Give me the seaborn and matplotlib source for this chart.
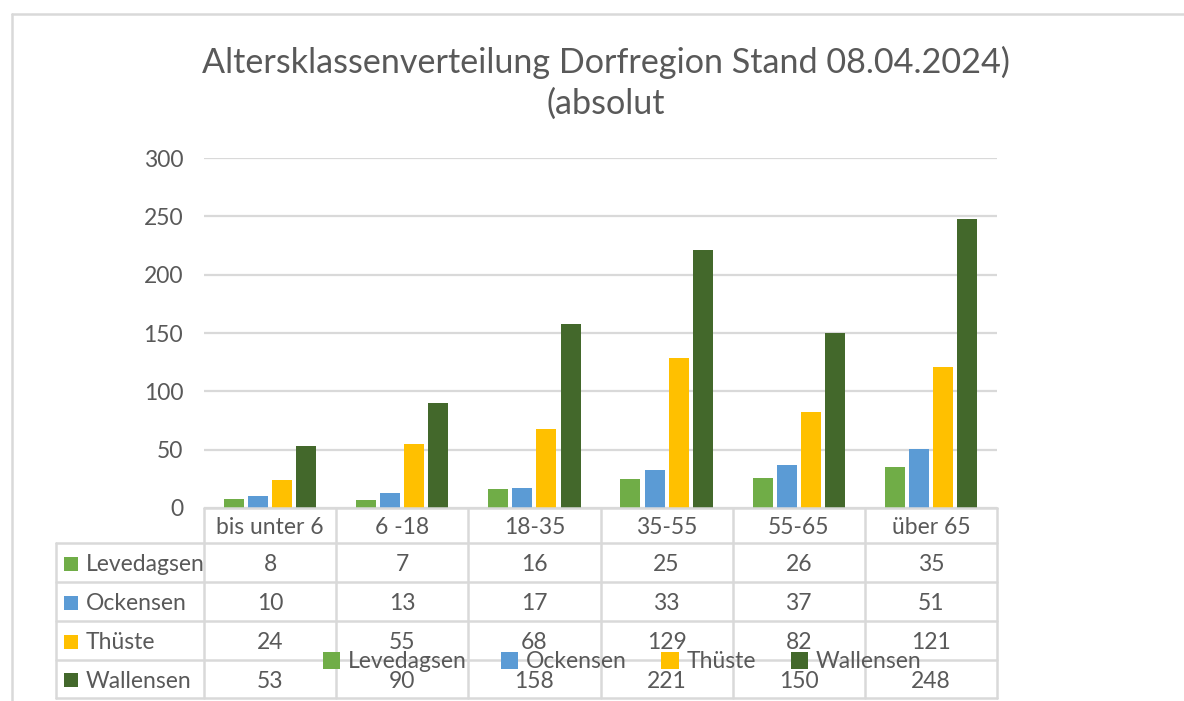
import matplotlib
matplotlib.use("Agg")
import matplotlib.pyplot as plt
import matplotlib.transforms as mtransforms
from matplotlib.lines import Line2D
from matplotlib.patches import Rectangle
import seaborn as sns
import pandas as pd

# Age classes and villages
categories = ["bis unter 6", "6 -18", "18-35", "35-55", "55-65", "über 65"]
villages = ["Levedagsen", "Ockensen", "Thüste", "Wallensen"]
levedagsen = [8, 7, 16, 25, 26, 35]
ockensen = [10, 13, 17, 33, 37, 51]
thueste = [24, 55, 68, 129, 82, 121]
wallensen = [53, 90, 158, 221, 150, 248]
yticks = [0, 50, 100, 150, 200, 250, 300]
title = "Altersklassenverteilung Dorfregion Stand 08.04.2024)\n(absolut"

colors = ["#70AD47", "#5B9BD5", "#FFC000", "#43682B"]
series = [levedagsen, ockensen, thueste, wallensen]

rows = []
for name, vals in zip(villages, series):
    for cat, v in zip(categories, vals):
        rows.append({"Altersklasse": cat, "Ort": name, "Anzahl": v})
df = pd.DataFrame(rows)

sns.set_theme(style="white")
plt.rcParams["font.family"] = ["Lato", "DejaVu Sans"]
TXT = "#595959"
GRID = "#D9D9D9"

W, H = 1184, 701
fig = plt.figure(figsize=(W / 100, H / 100), dpi=100)
fig.patch.set_facecolor("white")

def fx(px):
    return px / W

def fy(py):
    return 1 - py / H

ax_left, ax_right, ax_top, ax_bottom = 204, 997, 158, 508
ax = fig.add_axes([fx(ax_left), fy(ax_bottom), fx(ax_right - ax_left), (ax_bottom - ax_top) / H])

sns.barplot(data=df, x="Altersklasse", y="Anzahl", hue="Ort", order=categories,
            hue_order=villages, palette=colors, width=0.73, gap=0.17,
            saturation=1, ax=ax, edgecolor="none")

ax.set_ylim(0, 300)
ax.set_xlim(-0.5, len(categories) - 0.5)
ax.set_yticks(yticks)
ax.set_yticklabels([str(t) for t in yticks], fontsize=16.5, color=TXT)
ax.set_xticks([])
ax.set_xlabel("")
ax.set_ylabel("")
ax.tick_params(axis="y", length=0, pad=15)
ax.yaxis.grid(True, color=GRID, linewidth=1.6)
ax.set_axisbelow(True)
for side in ["top", "right", "left", "bottom"]:
    ax.spines[side].set_visible(False)
ax.get_legend().remove()

# Outer chart border
fig.add_artist(Line2D([fx(12), fx(12)], [fy(14), fy(H + 5)], transform=fig.transFigure,
                      color=GRID, linewidth=1.8))
fig.add_artist(Line2D([fx(12), fx(W + 5)], [fy(14), fy(14)], transform=fig.transFigure,
                      color=GRID, linewidth=1.8))

# Title
fig.text(fx(606), fy(62), title.split("\n")[0], ha="center", va="center",
         fontsize=24.6, color=TXT)
fig.text(fx(606), fy(104), title.split("\n")[1], ha="center", va="center",
         fontsize=24.6, color=TXT)

# Data table underneath the plot area
blend = mtransforms.blended_transform_factory(ax.transData, fig.transFigure)
row_edges = [508, 543, 582, 621, 660, 698]
n = len(categories)
lw = 1.8

def hline(x0, x1, y):
    fig.add_artist(Line2D([fx(x0), fx(x1)], [fy(y), fy(y)], transform=fig.transFigure,
                          color=GRID, linewidth=lw))

def vline(x, y0, y1):
    fig.add_artist(Line2D([fx(x), fx(x)], [fy(y0), fy(y1)], transform=fig.transFigure,
                          color=GRID, linewidth=lw))

hline(ax_left, ax_right, row_edges[0])
for y in row_edges[1:]:
    hline(56, ax_right, y)
vline(56, row_edges[1], row_edges[-1])
col_w = (ax_right - ax_left) / n
for i in range(n + 1):
    vline(ax_left + i * col_w, row_edges[0], row_edges[-1])

for i, cat in enumerate(categories):
    yc = (row_edges[0] + row_edges[1]) / 2 + 2
    ax.text(i, fy(yc), cat, transform=blend, ha="center", va="center",
            fontsize=16.5, color=TXT, clip_on=False)

for r, (name, vals, col) in enumerate(zip(villages, series, colors)):
    yc = (row_edges[r + 1] + row_edges[r + 2]) / 2 + 2
    fig.add_artist(Rectangle((fx(64), fy(yc + 6)), fx(14), 14 / H,
                             transform=fig.transFigure, color=col, linewidth=0))
    fig.text(fx(86), fy(yc), name, ha="left", va="center", fontsize=16.5, color=TXT)
    for i, v in enumerate(vals):
        ax.text(i, fy(yc), str(v), transform=blend, ha="center", va="center",
                fontsize=16.5, color=TXT, clip_on=False)

# Legend
handles = [Rectangle((0, 0), 1, 1, color=c, linewidth=0) for c in colors]
fig.legend(handles, villages, loc="center", bbox_to_anchor=(fx(622), fy(662)),
           ncol=4, frameon=False, fontsize=16.5, labelcolor=TXT,
           handlelength=0.75, handleheight=0.75, handletextpad=0.35,
           columnspacing=1.5)

fig.savefig("out.png", dpi=100)
